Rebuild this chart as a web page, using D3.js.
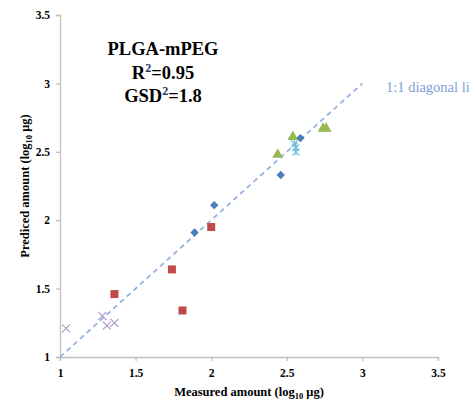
<!DOCTYPE html>
<html>
<head>
<meta charset="utf-8">
<script src="https://cdn.jsdelivr.net/npm/d3@7/dist/d3.min.js"></script>
<style>
  html, body { margin: 0; padding: 0; background: #fff; }
  svg { display: block; }
  text { font-family: "Liberation Serif", "Times New Roman", serif; }
</style>
</head>
<body>
<svg id="chart" width="469" height="405"></svg>
<script>
// Measured vs predicted amounts (log10 µg), one array per formulation series
const seriesDiamond = [[1.89, 1.91], [2.02, 2.11], [2.46, 2.33], [2.59, 2.60]];
const seriesSquare  = [[1.36, 1.46], [1.74, 1.64], [1.81, 1.34], [2.00, 1.95]];
const seriesTriangle = [[2.44, 2.48], [2.54, 2.61], [2.74, 2.67], [2.76, 2.67]];
const seriesCross   = [[1.04, 1.21], [1.28, 1.30], [1.31, 1.23], [1.36, 1.25]];
const seriesStar    = [[2.55, 2.56], [2.56, 2.53], [2.56, 2.50]];
const diagonal      = [[1, 1], [3, 3]];
const tickValues    = [1, 1.5, 2, 2.5, 3, 3.5];
const annotation    = ["PLGA-mPEG", "R²=0.95", "GSD²=1.8"];

const svg = d3.select("#chart");
const x = d3.scaleLinear().domain([1, 3.5]).range([60, 438]);
const y = d3.scaleLinear().domain([1, 3.5]).range([357, 15]);
const axisColor = "#bfbfbf";

// Axes
const xAxis = svg.append("g").attr("transform", `translate(0,${y(1)})`)
  .call(d3.axisBottom(x).tickValues(tickValues).tickSize(4).tickPadding(6)
    .tickFormat(d => d3.format("")(d)));
const yAxis = svg.append("g").attr("transform", `translate(${x(1)},0)`)
  .call(d3.axisLeft(y).tickValues(tickValues).tickSize(4).tickPadding(6)
    .tickFormat(d => d3.format("")(d)));
[xAxis, yAxis].forEach(g => {
  g.select(".domain").attr("stroke", axisColor).attr("stroke-width", 1.3);
  g.selectAll(".tick line").attr("stroke", axisColor).attr("stroke-width", 1.3);
  g.selectAll(".tick text").attr("fill", "#000").attr("font-weight", "bold")
    .attr("font-size", 11.5).attr("font-family", "Liberation Serif, serif");
});
xAxis.selectAll(".tick text").attr("dy", "0.9em");

// Axis titles
const xTitle = svg.append("text").attr("x", (x(1) + x(3.5)) / 2).attr("y", 396)
  .attr("text-anchor", "middle").attr("font-weight", "bold").attr("font-size", 12.5);
xTitle.append("tspan").text("Measured amount (log");
xTitle.append("tspan").attr("font-size", 8.5).attr("dy", 3).text("10");
xTitle.append("tspan").attr("dy", -3).text(" μg)");

const yTitle = svg.append("text")
  .attr("transform", `translate(29,${(y(1) + y(3.5)) / 2}) rotate(-90)`)
  .attr("text-anchor", "middle").attr("font-weight", "bold").attr("font-size", 12.5);
yTitle.append("tspan").text("Prediced amount (log");
yTitle.append("tspan").attr("font-size", 8.5).attr("dy", 3).text("10");
yTitle.append("tspan").attr("dy", -3).text(" μg)");

// 1:1 diagonal
svg.append("path").datum(diagonal)
  .attr("d", d3.line().x(d => x(d[0])).y(d => y(d[1])))
  .attr("fill", "none").attr("stroke", "#95b3e0").attr("stroke-width", 1.8)
  .attr("stroke-dasharray", "5,4");
svg.append("text").attr("x", 386).attr("y", 92).attr("font-size", 14.5)
  .attr("fill", "#7f9fd8").text("1:1 diagonal line");

// Markers
function drawShape(data, d, fill) {
  svg.append("g").selectAll("path").data(data).join("path")
    .attr("transform", p => `translate(${x(p[0])},${y(p[1])})`)
    .attr("d", d).attr("fill", fill);
}
drawShape(seriesDiamond, "M0,-4.2L4.2,0L0,4.2L-4.2,0Z", "#4a7ebb");
drawShape(seriesSquare, d3.symbol().type(d3.symbolSquare).size(64)(), "#be4b48");
drawShape(seriesTriangle, d3.symbol().type(d3.symbolTriangle).size(52)(), "#98b954");

svg.append("g").selectAll("path").data(seriesCross).join("path")
  .attr("transform", d => `translate(${x(d[0])},${y(d[1])})`)
  .attr("d", "M-4,-4L4,4M-4,4L4,-4")
  .attr("stroke", "#a898c4").attr("stroke-width", 1.1).attr("fill", "none");

svg.append("g").selectAll("path").data(seriesStar).join("path")
  .attr("transform", d => `translate(${x(d[0])},${y(d[1])})`)
  .attr("d", "M-3.5,-3.5L3.5,3.5M-3.5,3.5L3.5,-3.5M0,-4L0,4")
  .attr("stroke", "#6cbfd4").attr("stroke-width", 1.1).attr("fill", "none");

// Fit statistics
const note = svg.append("text").attr("text-anchor", "middle")
  .attr("font-weight", "bold").attr("font-size", 18.5);
annotation.forEach((line, i) => {
  const t = note.append("tspan").attr("x", 163).attr("y", 55 + i * 23.5);
  const parts = line.split("²");
  if (parts.length === 1) { t.text(line); return; }
  t.append("tspan").text(parts[0]);
  t.append("tspan").attr("font-size", 12).attr("dy", -7).attr("fill", "#1f3864").text("2");
  t.append("tspan").attr("dy", 7).text(parts[1]);
});
</script>
</body>
</html>
